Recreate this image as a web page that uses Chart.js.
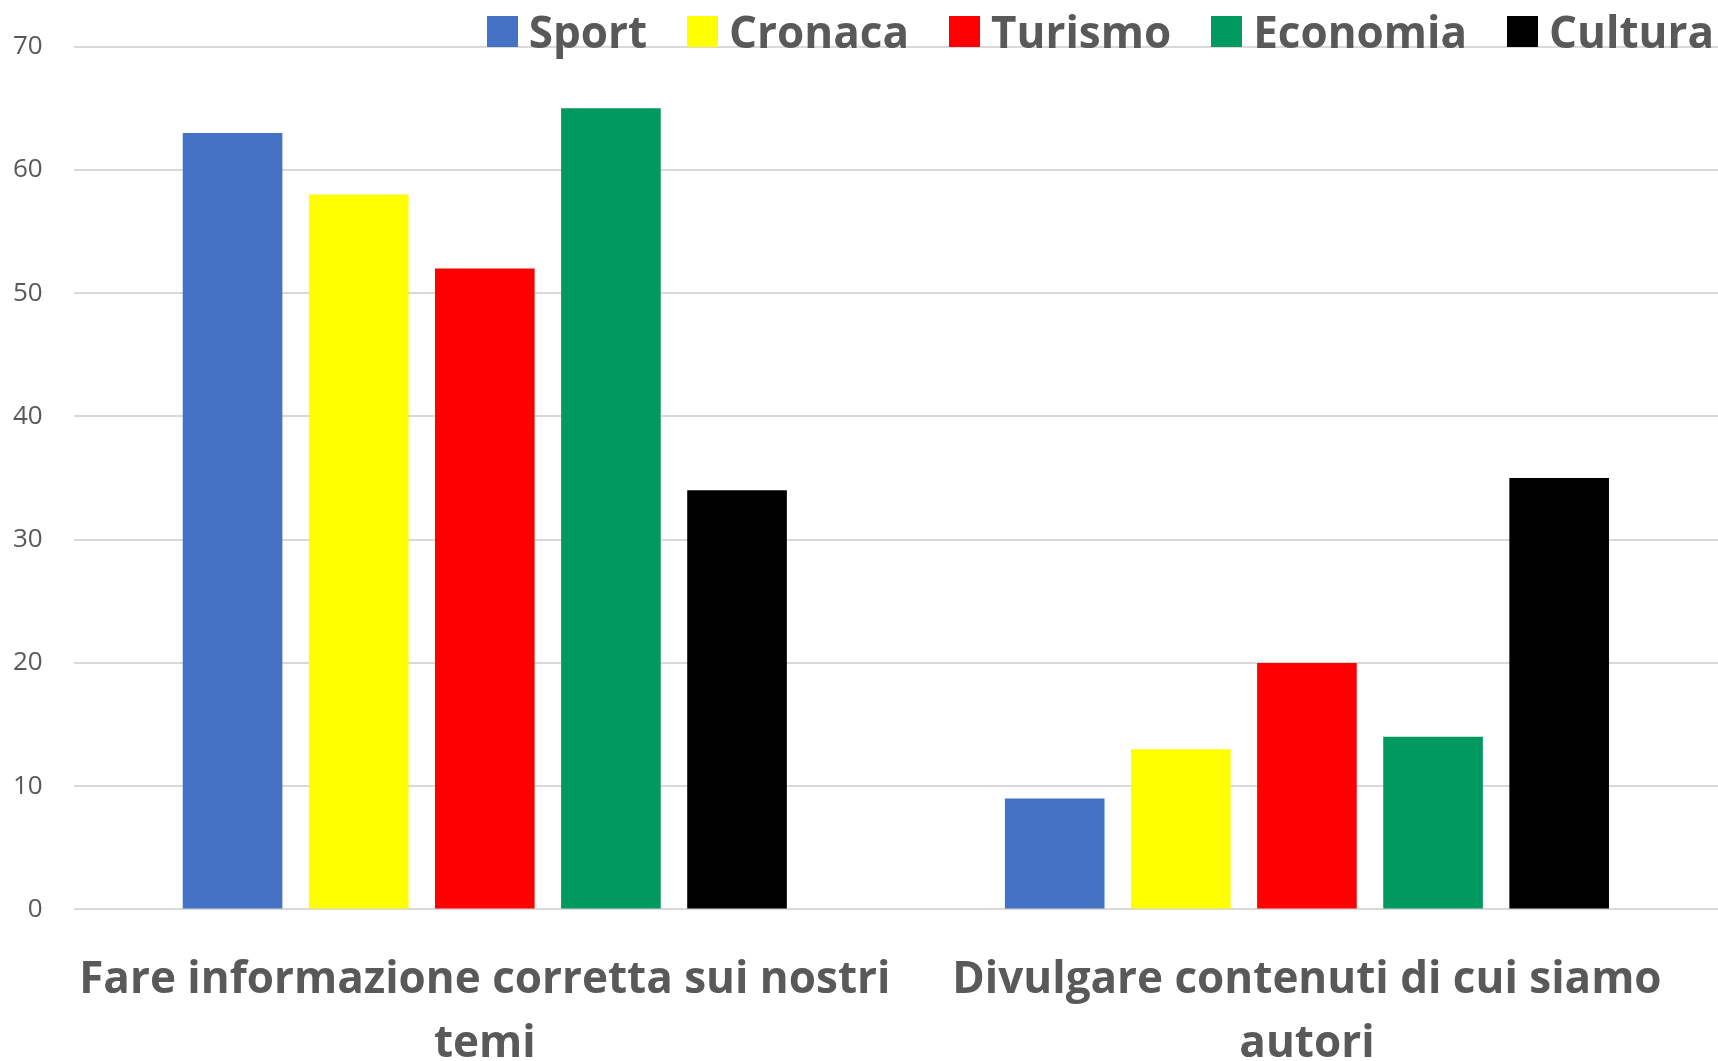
<!DOCTYPE html>
<html lang="it">
<head>
  <meta charset="UTF-8" />
  <title>Sport, Cronaca, Turismo, Economia, Cultura</title>
  <script src="https://cdn.jsdelivr.net/npm/chart.js"></script>
  <style>
    body {
      margin: 0;
      background: #fff;
      font-family: "Open Sans", Arial, sans-serif;
    }
    .wrap {
      position: relative;
      width: 1718px;
      height: 1061px;
    }
    #legend {
      position: absolute;
      top: 4px;
      right: 4px;
      display: flex;
      gap: 40px;
      font-weight: bold;
      font-size: 44px;
      color: #595959;
      line-height: 54px;
    }
    #legend span.item {
      display: flex;
      align-items: center;
    }
    #legend i {
      display: inline-block;
      width: 31px;
      height: 31px;
      margin-right: 11px;
    }
  </style>
</head>
<body>
  <div class="wrap">
    <canvas id="chart"></canvas>
    <div id="legend"></div>
  </div>

  <script>
    // data
    const categories = [
      ['Fare informazione corretta sui nostri', 'temi'],
      ['Divulgare contenuti di cui siamo', 'autori']
    ];
    const seriesNames = ['Sport', 'Cronaca', 'Turismo', 'Economia', 'Cultura'];
    const sport    = [63, 9];
    const cronaca  = [58, 13];
    const turismo  = [52, 20];
    const economia = [65, 14];
    const cultura  = [34, 35];
    const yTicks = [0, 10, 20, 30, 40, 50, 60, 70];

    const colors = ['#4472c4', '#ffff00', '#ff0000', '#00995f', '#000000'];
    const values = [sport, cronaca, turismo, economia, cultura];

    const datasets = seriesNames.map((name, i) => ({
      label: name,
      data: values[i],
      backgroundColor: colors[i],
      categoryPercentage: 0.767,
      barPercentage: 0.79
    }));

    // html legend, sits over the top of the plot like the original
    const legend = document.getElementById('legend');
    seriesNames.forEach((name, i) => {
      const item = document.createElement('span');
      item.className = 'item';
      item.innerHTML = '<i style="background:' + colors[i] + '"></i>' + name;
      legend.appendChild(item);
    });

    const ctx = document.getElementById('chart').getContext('2d');
    new Chart(ctx, {
      type: 'bar',
      data: { labels: categories, datasets: datasets },
      options: {
        responsive: true,
        maintainAspectRatio: false,
        animation: false,
        layout: {
          // chart.js keeps some spare room left/bottom, pull it back
          padding: { top: 40, left: -18, right: 0, bottom: -46 }
        },
        plugins: {
          legend: { display: false },
          tooltip: { enabled: false }
        },
        scales: {
          x: {
            grid: { display: false },
            border: { display: false },
            ticks: {
              color: '#595959',
              padding: 31,
              font: { family: 'Open Sans', size: 44, weight: 'bold', lineHeight: 1.45 }
            }
          },
          y: {
            min: 0,
            max: 70,
            afterBuildTicks: axis => {
              axis.ticks = yTicks.map(v => ({ value: v }));
            },
            grid: { color: '#d9d9d9', lineWidth: 2, drawTicks: false },
            border: { display: false },
            ticks: {
              color: '#595959',
              padding: 31,
              font: { family: 'Open Sans', size: 26 }
            }
          }
        }
      }
    });
  </script>
</body>
</html>
